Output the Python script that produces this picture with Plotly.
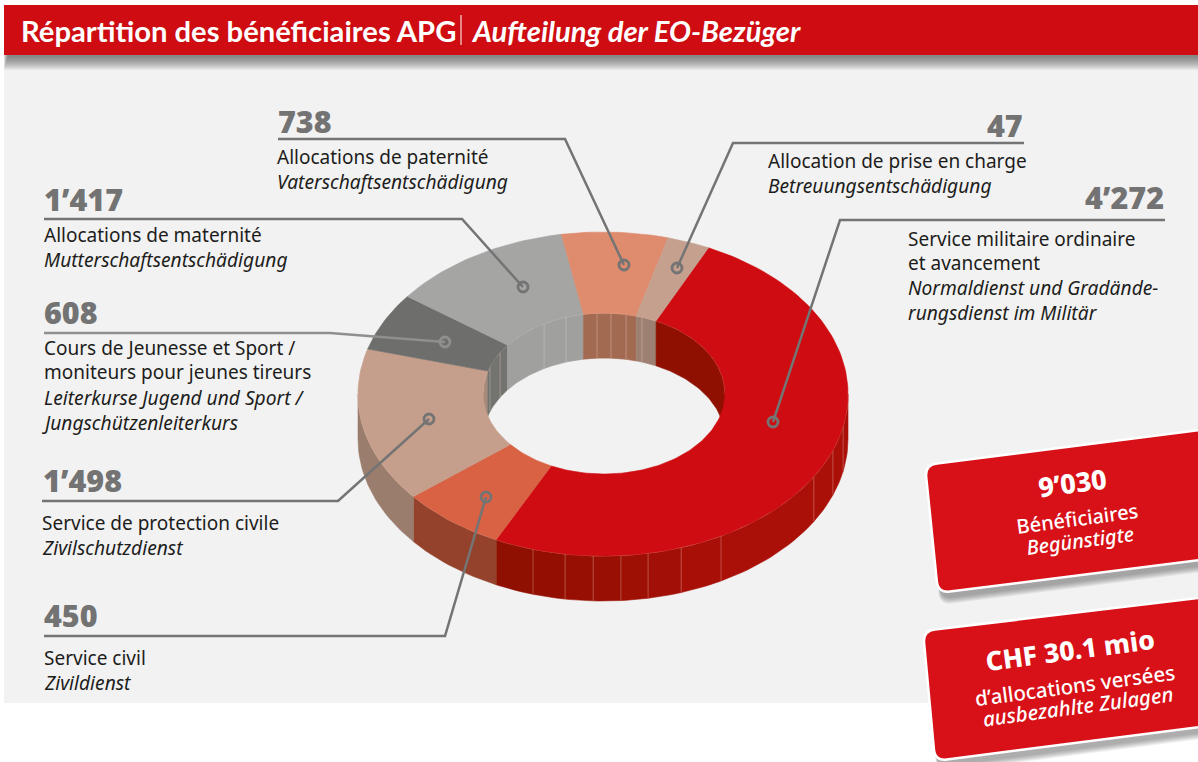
import math
import plotly.graph_objects as go

# ---------- data ----------
CATEGORIES = ["Service militaire", "Service civil", "Protection civile", "Jeunesse et Sport",
              "Maternité", "Paternité", "Prise en charge"]
BENEFICIARIES = [4272, 450, 1498, 608, 1417, 738, 47]
VALUE_LABELS = ["4’272", "450", "1’498", "608", "1’417", "738", "47"]
# the drawing's slices are not strictly proportional: shares (%)
DRAWN_SHARE = [50.1, 6.9, 15.4, 5.8, 12.0, 7.0, 2.8]
TOP_COLORS = ["#ce0c11", "#d96144", "#c69f8c", "#6e6e6c", "#a5a5a4", "#df8b6e", "#c6a08e"]
OUTER_WALL = ["#a00f04", "#94422c", "#9b7d6e", "#73736f", "#a0a09e", "#a36a52", "#9e8072"]
INNER_WALL = ["#8f1000", "#94422c", "#a98a7a", "#73736f", "#a0a09e", "#a36a52", "#9e8072"]

# ---------- geometry of the drawing ----------
W, H = 1198, 762
START = 25.5
CX, CY, RX, RY = 603, 394, 245, 162
IX, IY, IRX, IRY = 604, 393.5, 121, 80.5
DEPTH = 45
OUTER_SEAMS = [196.6, 188.9, 182.3, 175.8, 169.4, 161.4, 151.2, 120.6, 110.2, 101.5]
INNER_SEAMS = [-70.4, -59.2, -29.7, -18.3, -3.3, 3.3, 10.5, 18.3]

BODY = "Noto Sans"
NUM = "Noto Sans"
HEAD = "Lato"
RED = "#ce0c11"
CARD = "#d81118"
GREY = "#737373"


def outer(t, drop=0):
    r = math.radians(t)
    return CX + RX * math.sin(r), CY - RY * math.cos(r) + drop


def inner(t, drop=0):
    r = math.radians(t)
    return IX + IRX * math.sin(r), IY - IRY * math.cos(r) + drop


def arc(fn, a, b, drop=0, n=None):
    n = n or max(2, int(abs(b - a) / 1.5) + 2)
    return [fn(a + (b - a) * i / (n - 1), drop) for i in range(n)]


def mix(c1, c2, f):
    p = [int(c1[i:i + 2], 16) for i in (1, 3, 5)]
    q = [int(c2[i:i + 2], 16) for i in (1, 3, 5)]
    return "#%02x%02x%02x" % tuple(round(p[i] + (q[i] - p[i]) * f) for i in range(3))


def poly(pts, color, name):
    fig.add_trace(go.Scatter(x=[p[0] for p in pts] + [pts[0][0]], y=[p[1] for p in pts] + [pts[0][1]],
                             mode="lines", fill="toself", fillcolor=color,
                             line=dict(color=color, width=0.6), name=name, hoverinfo="name",
                             showlegend=False))


def seg_line(pts, color="rgba(255,225,215,0.3)", width=1):
    fig.add_trace(go.Scatter(x=[p[0] for p in pts], y=[p[1] for p in pts], mode="lines",
                             line=dict(color=color, width=width), hoverinfo="skip", showlegend=False))


fig = go.Figure()

# slice angle ranges from the shares
spans = []
a = START
for s in DRAWN_SHARE:
    b = a + s * 3.6
    spans.append((a, b))
    a = b


def walls(fn, rng, seams, colors, shade=False):
    for i, (a0, b0) in enumerate(spans):
        lo, hi = max(a0, rng[0]), min(b0, rng[1])
        if hi <= lo:
            continue
        cuts = [lo] + sorted(s for s in seams if lo < s < hi) + [hi]
        for p, q in zip(cuts, cuts[1:]):
            col = colors[i]
            if shade and i == 0:
                col = mix("#aa0f08", "#8f0f00", min(1, max(0, ((p + q) / 2 - 150) / 50)))
            poly(arc(fn, p, q) + arc(fn, q, p, DEPTH), col, CATEGORIES[i])
        for s in cuts[1:-1]:
            seg_line([fn(s), fn(s, DEPTH)])


walls(outer, (90, 270), OUTER_SEAMS, OUTER_WALL, shade=True)
walls(inner, (270, 360 + 90), [s + 360 if s < 0 else s + 360 for s in INNER_SEAMS], INNER_WALL)
walls(inner, (0, 90), INNER_SEAMS, INNER_WALL)
seg_line(arc(outer, 90, 270), "rgba(255,215,205,0.55)", 0.8)
seg_line(arc(inner, -90, 90), "rgba(255,225,215,0.5)", 0.8)

for i, (a0, b0) in enumerate(spans):
    poly(arc(outer, a0, b0) + arc(inner, b0, a0), TOP_COLORS[i], CATEGORIES[i])

# ---------- leaders ----------
LEADERS = [
    ([278, 565, 624], [139, 139, 265], "#747474"),
    ([1024, 733, 677], [143, 143, 268], "#747474"),
    ([1165, 840, 773], [220, 220, 422], "#747474"),
    ([44, 462, 523], [219, 219, 287], "#747474"),
    ([44, 330, 445], [333, 333, 342], "#8f8f8d"),
    ([42, 338, 429], [501, 501, 419], "#747474"),
    ([44, 445, 486], [636, 636, 497], "#747474"),
]
for xs, ys, col in LEADERS:
    fig.add_trace(go.Scatter(x=xs, y=ys, mode="lines", line=dict(color=col, width=2.5),
                             hoverinfo="skip", showlegend=False))
    fig.add_trace(go.Scatter(x=[xs[-1]], y=[ys[-1]], mode="markers", hoverinfo="skip", showlegend=False,
                             marker=dict(size=10, color="rgba(0,0,0,0)", line=dict(color=col, width=2.8))))

# ---------- texts ----------
annotations = []


def text(x, y, s, size=19, color="#1d1d1b", family=BODY, anchor="left", weight=None, angle=0):
    annotations.append(dict(x=x, y=y, xref="x", yref="y", text=s, showarrow=False, xanchor=anchor,
                            yanchor="middle", textangle=angle, borderpad=0, align=anchor,
                            font=dict(size=size, color=color, family=family, weight=weight)))


def block(x, y_num, label, anchor, lines_x, lines):
    text(x - 1 if anchor == "left" else x, y_num - 1, label, size=30.5, color=GREY, family=NUM, anchor=anchor, weight=900)
    for y, s in lines:
        if s.startswith("<i>J"):
            text(lines_x - 3, y, s, size=19.2)
        elif s.startswith("<i>"):
            text(lines_x - 1, y, s, size=19.2)
        else:
            text(lines_x - 1, y, s, size=19)


block(278, 122, VALUE_LABELS[5], "left", 277, [(157, "Allocations de paternité"), (181, "<i>Vaterschaftsentschädigung</i>")])
block(1024, 126, VALUE_LABELS[6], "right", 768, [(161, "Allocation de prise en charge"), (185, "<i>Betreuungsentschädigung</i>")])
block(1165, 198, VALUE_LABELS[0], "right", 908, [(239, "Service militaire ordinaire"), (263, "et avancement"),
                                                 (287, "<i>Normaldienst und Gradände-</i>"), (312, "<i>rungsdienst im Militär</i>")])
block(44, 200, VALUE_LABELS[4], "left", 44, [(235, "Allocations de maternité"), (259, "<i>Mutterschaftsentschädigung</i>")])
block(44, 313, VALUE_LABELS[3], "left", 44, [(347.5, "Cours de Jeunesse et Sport /"), (372, "moniteurs pour jeunes tireurs"),
                                             (397, "<i>Leiterkurse Jugend und Sport /</i>"), (422, "<i>Jungschützenleiterkurs</i>")])
block(43, 481, VALUE_LABELS[2], "left", 42, [(523, "Service de protection civile"), (547, "<i>Zivilschutzdienst</i>")])
block(44, 616, VALUE_LABELS[1], "left", 44, [(658, "Service civil"), (682, "<i>Zivildienst</i>")])

text(20, 30, "Répartition des bénéficiaires APG", size=29.2, color="white", family=HEAD, weight=700)
text(470, 30, "<i>Aufteilung der EO-Bezüger</i>", size=29.2, color="white", family=HEAD, weight=700)

CARD_ANGLE = -7.6
text(1072, 482, "9’030", size=27, color="white", anchor="center", weight=800, angle=CARD_ANGLE)
text(1077, 518, "Bénéficiaires", size=20, color="white", anchor="center", weight=500, angle=CARD_ANGLE)
text(1080, 540, "<i>Begünstigte</i>", size=20, color="white", anchor="center", weight=500, angle=CARD_ANGLE)
text(1070, 650, "CHF 30.1 mio", size=26.5, color="white", anchor="center", weight=800, angle=CARD_ANGLE)
text(1075, 685, "d’allocations versées", size=20.5, color="white", anchor="center", weight=500, angle=CARD_ANGLE)
text(1078, 706, "<i>ausbezahlte Zulagen</i>", size=20.5, color="white", anchor="center", weight=500, angle=CARD_ANGLE)

# ---------- furniture ----------
shapes = [dict(type="rect", xref="x", yref="y", x0=4, x1=W, y0=55, y1=703, fillcolor="#f2f2f2",
               line_width=0, layer="below")]
for k in range(14):
    shapes.append(dict(type="rect", xref="x", yref="y", x0=4 + k * 0.3, x1=W, y0=55, y1=70 - k,
                       fillcolor="rgba(60,60,60,0.055)", line_width=0, layer="below"))
shapes.append(dict(type="rect", xref="x", yref="y", x0=4, x1=W, y0=5, y1=55, fillcolor=RED, line_width=0))
shapes.append(dict(type="line", xref="x", yref="y", x0=461, x1=461, y0=15, y1=45,
                   line=dict(color="white", width=1)))


def round_quad(tl, tr, br, bl, r):
    pts = [tl, tr, br, bl]
    d = ""
    for i in range(4):
        p, prev, nxt = pts[i], pts[i - 1], pts[(i + 1) % 4]
        def toward(q):
            L = math.hypot(q[0] - p[0], q[1] - p[1])
            return p[0] + (q[0] - p[0]) * r / L, p[1] + (q[1] - p[1]) * r / L
        s, e = toward(prev), toward(nxt)
        d += ("M" if i == 0 else "L") + f"{s[0]:.1f},{s[1]:.1f} Q{p[0]:.1f},{p[1]:.1f} {e[0]:.1f},{e[1]:.1f} "
    return d + "Z"


def card(tl, tr, br, bl):
    for k in range(7, 0, -1):
        off = lambda p: (p[0] + 3, p[1] + 5)
        sh = [off(tl), off(tr), off(br), off(bl)]
        sh = [sh[0], sh[1], (sh[2][0], sh[2][1] + k), (sh[3][0] - 0.2 * k, sh[3][1] + k)]
        shapes.append(dict(type="path", xref="x", yref="y", path=round_quad(*sh, 12),
                           fillcolor="rgba(60,60,60,0.07)", line_width=0))
    shapes.append(dict(type="path", xref="x", yref="y", path=round_quad(tl, tr, br, bl, 12),
                       fillcolor=CARD, line=dict(color="white", width=2.5)))


card((925, 465), (1215, 428), (1215, 558), (938, 593))
card((923, 631), (1215, 596), (1215, 725), (935, 761))

fig.update_layout(
    width=W, height=H, margin=dict(l=0, r=0, t=0, b=0), autosize=False,
    paper_bgcolor="white", plot_bgcolor="white", showlegend=False,
    xaxis=dict(range=[0, W], visible=False, fixedrange=True),
    yaxis=dict(range=[H, 0], visible=False, fixedrange=True),
    shapes=shapes, annotations=annotations,
)
fig.write_html("out.html", config={"displayModeBar": False},
               post_script="document.body.style.margin='0';document.body.style.overflow='hidden';")
